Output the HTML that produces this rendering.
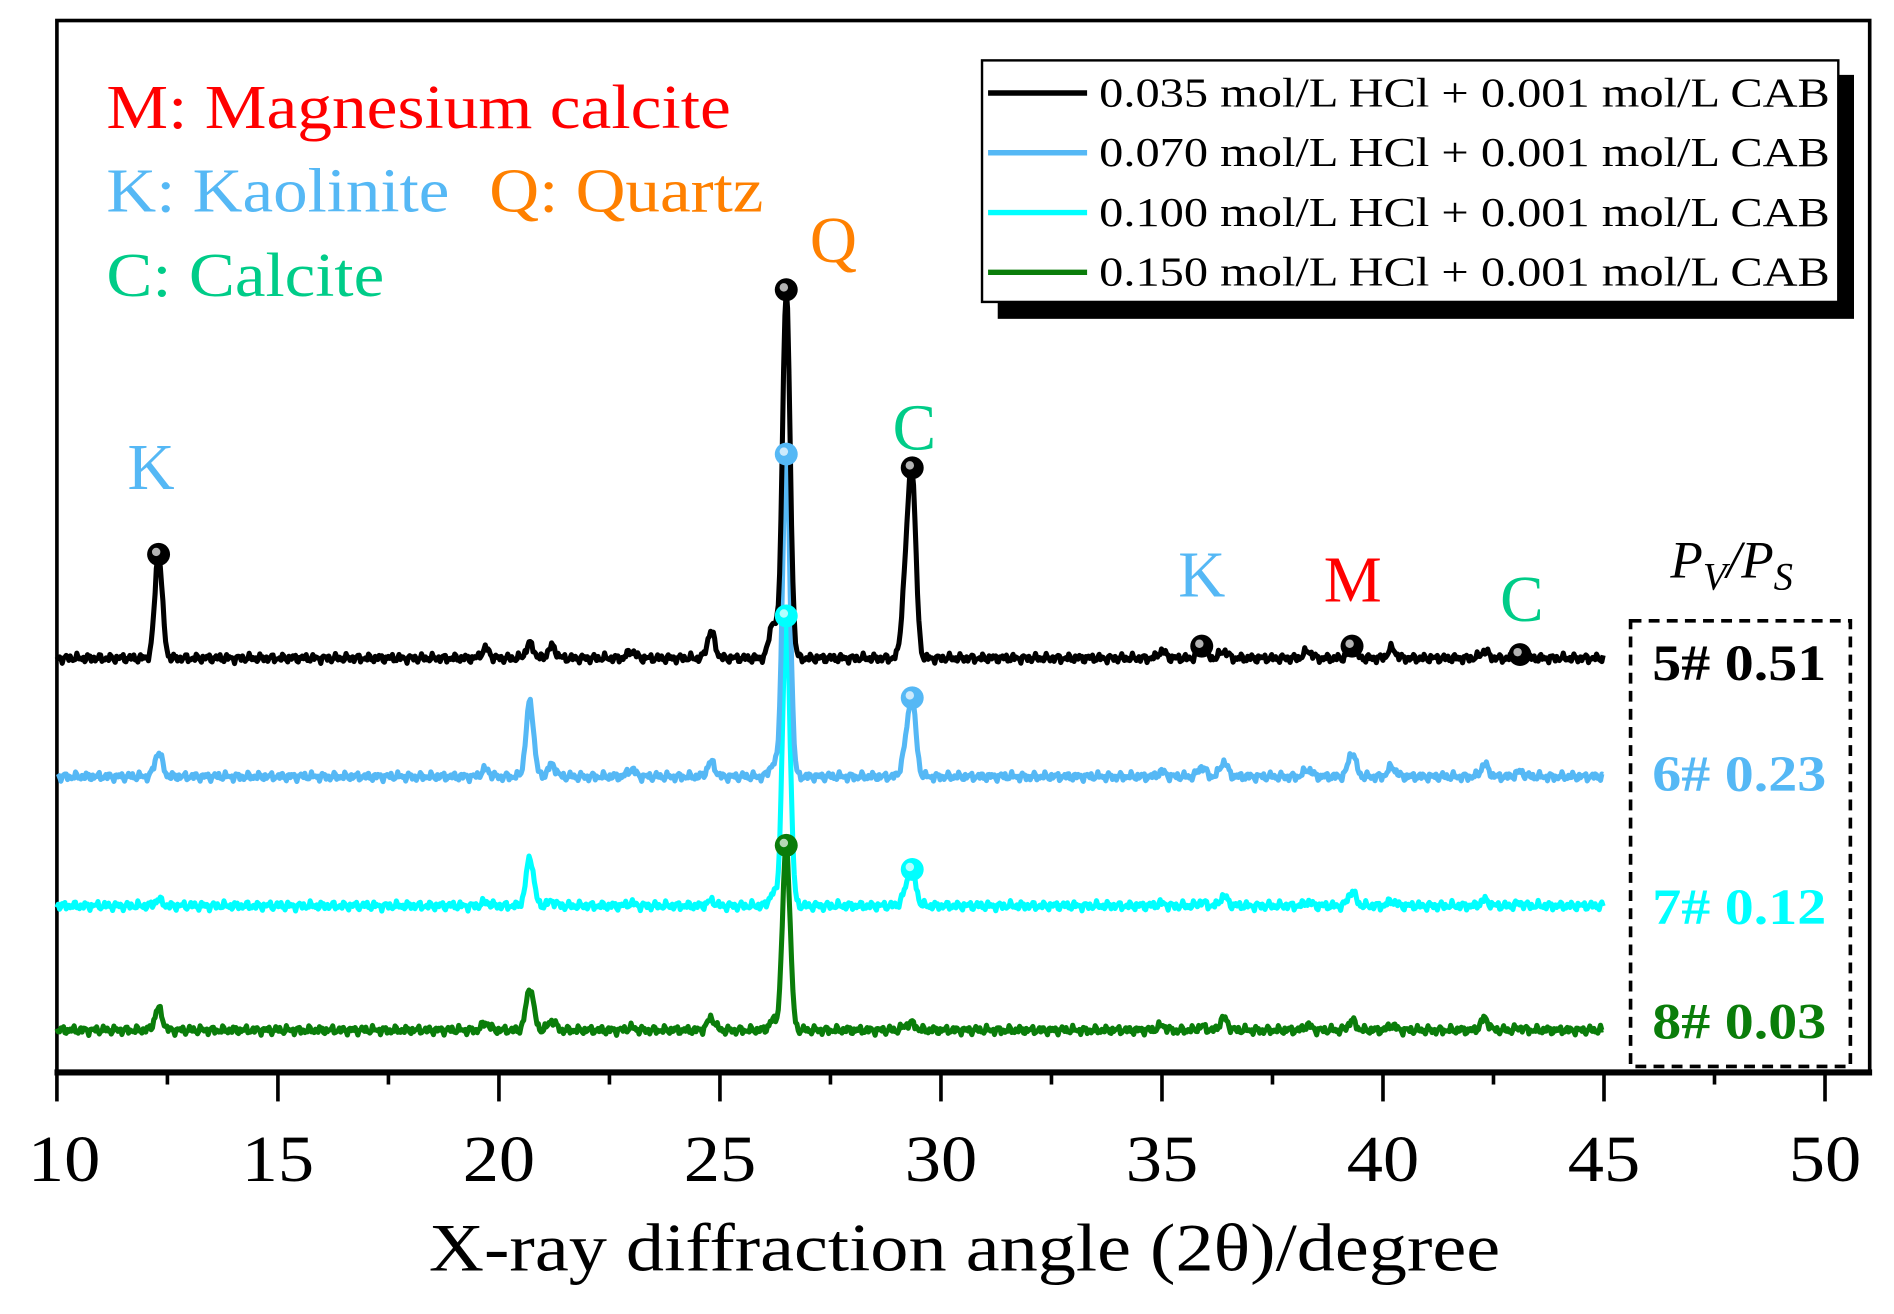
<!DOCTYPE html>
<html><head><meta charset="utf-8"><style>
html,body{margin:0;padding:0;background:#fff;}
svg{display:block;font-family:"Liberation Serif",serif;}
</style></head><body>
<svg id="chart" width="1894" height="1314" viewBox="0 0 1568 1088" xmlns="http://www.w3.org/2000/svg">
<g id="frame">
<rect x="47" y="17" width="1501" height="871" fill="none" stroke="#000" stroke-width="3"/>
<line x1="45" y1="888" x2="1550" y2="888" stroke="#000" stroke-width="5"/>
</g>
<g id="ticks"></g>
<text x="355" y="1052" font-size="56" textLength="887" lengthAdjust="spacingAndGlyphs">X-ray diffraction angle (2θ)/degree</text>
<g id="series"></g>
<g font-size="52">
<text x="88" y="106" fill="#ff0000" textLength="517" lengthAdjust="spacingAndGlyphs">M: Magnesium calcite</text>
<text x="88" y="175" fill="#55b8f5" textLength="284" lengthAdjust="spacingAndGlyphs">K: Kaolinite</text>
<text x="405" y="175" fill="#ff8000" textLength="227" lengthAdjust="spacingAndGlyphs">Q: Quartz</text>
<text x="88" y="245" fill="#00cc88" textLength="230" lengthAdjust="spacingAndGlyphs">C: Calcite</text>
</g>
<g font-size="54" text-anchor="middle">
<text x="690" y="217" fill="#ff8000">Q</text>
<text x="757" y="372" fill="#00cc88">C</text>
<text x="125" y="405" fill="#55b8f5">K</text>
<text x="995" y="494" fill="#55b8f5">K</text>
<text x="1120" y="498" fill="#ff0000">M</text>
<text x="1260" y="514" fill="#00cc88">C</text>
</g>
<text x="1383" y="478" font-size="44" font-style="italic">P<tspan font-size="32" dy="10">V</tspan><tspan dy="-10">/P</tspan><tspan font-size="32" dy="10">S</tspan></text>
<g>
<rect x="1350" y="514" width="182" height="369" fill="none" stroke="#000" stroke-width="3" stroke-dasharray="9,6"/>
<g font-size="42" font-weight="bold">
<text x="1368" y="563" fill="#000" textLength="144" lengthAdjust="spacingAndGlyphs">5# 0.51</text>
<text x="1368" y="655" fill="#55b8f5" textLength="144" lengthAdjust="spacingAndGlyphs">6# 0.23</text>
<text x="1368" y="765" fill="#00ffff" textLength="144" lengthAdjust="spacingAndGlyphs">7# 0.12</text>
<text x="1368" y="860" fill="#0a7d0a" textLength="144" lengthAdjust="spacingAndGlyphs">8# 0.03</text>
</g></g>
<g>
<rect x="826" y="62" width="709" height="202" fill="#000"/>
<rect x="813" y="50" width="709" height="200" fill="#fff" stroke="#000" stroke-width="2"/>
<g id="legend-items" font-size="34"></g>
</g>
</svg>
<script>
const NS="http://www.w3.org/2000/svg";
const seriesNames=["0.035 mol/L HCl + 0.001 mol/L CAB","0.070 mol/L HCl + 0.001 mol/L CAB","0.100 mol/L HCl + 0.001 mol/L CAB","0.150 mol/L HCl + 0.001 mol/L CAB"];
const seriesColors=["#000000","#55b8f5","#00ffff","#0a7d0a"];
const baselines=[545,643,750,853];
const peakPos=[12.3,19.7,20.7,21.2,23.0,24.8,26.2,26.5,29.2,29.35,35.0,35.9,36.4,38.3,39.3,40.2,42.3,43.1];
const heights0=[86,8,12,10,6,22,30,305,60,145,6,10,6,6,10,8,6,3];
const heights1=[20,6,62,10,6,12,10,267,20,61,4,8,12,6,20,8,10,4];
const heights2=[5,3,40,4,2,4,10,240,10,28,2,3,8,3,12,4,5,2];
const heights3=[18,6,35,8,2,10,8,153,3,5,4,3,10,4,8,4,10,2];
const allHeights=[heights0,heights1,heights2,heights3];
const xTicks=[10,15,20,25,30,35,40,45,50];
const markerPeaks=[[12.3,26.5,29.35,35.9,39.3,43.1],[26.5,29.35],[26.5,29.35],[26.5]];
const X=v=>47+(v-10)*36.6;
function mk(t,a,p){const e=document.createElementNS(NS,t);for(const k in a)e.setAttribute(k,a[k]);(p||document.getElementById('chart')).appendChild(e);return e;}
const tg=document.getElementById('ticks');
for(let v=10;v<=50;v+=2.5){const major=v%5===0;
const t=mk('line',{x1:X(v),y1:888,x2:X(v),y2:major?912:898,stroke:'#000','stroke-width':3},tg);

}
xTicks.forEach(v=>{const t=mk('text',{x:X(v)+(v===10?6:0)-30,y:978,'font-size':54,textLength:60,lengthAdjust:'spacingAndGlyphs'},tg);t.textContent=v;

});
const sg=document.getElementById('series');
function prof(h,x){let y=0;for(let i=0;i<peakPos.length;i++){const d=(x-peakPos[i])/0.085;y+=h[i]*Math.exp(-d*d/2);}return y;}
for(let s=3;s>=0;s--){const h=allHeights[s];let d='';
for(let x=10;x<=45.001;x+=0.03){const w=3*Math.sin(x*37.1+s)*Math.sin(x*11.3)+1.5*Math.sin(x*83.7+2*s);d+=(d?'L':'M')+X(x).toFixed(1)+','+(baselines[s]-prof(h,x)-w).toFixed(1);}
const p=mk('path',{d:d,fill:'none',stroke:seriesColors[s],'stroke-width':4.2,'stroke-linejoin':'round'},sg);

}
for(let s=0;s<4;s++){markerPeaks[s].forEach(pk=>{const y=baselines[s]-prof(allHeights[s],pk);
const c=mk('circle',{cx:X(pk),cy:y,r:9.5,fill:seriesColors[s]},sg);


mk('circle',{cx:X(pk)-2,cy:y-2,r:3.5,fill:'#fff',opacity:0.7},sg);});}
const lg=document.getElementById('legend-items');
seriesNames.forEach((n,i)=>{const y=77+i*49.5;
const l=mk('line',{x1:818,y1:y,x2:900,y2:y,stroke:seriesColors[i],'stroke-width':4.5},lg);


const t=mk('text',{x:910,y:y+11,textLength:605,lengthAdjust:'spacingAndGlyphs'},lg);t.textContent=n;

});
</script>
</body></html>
